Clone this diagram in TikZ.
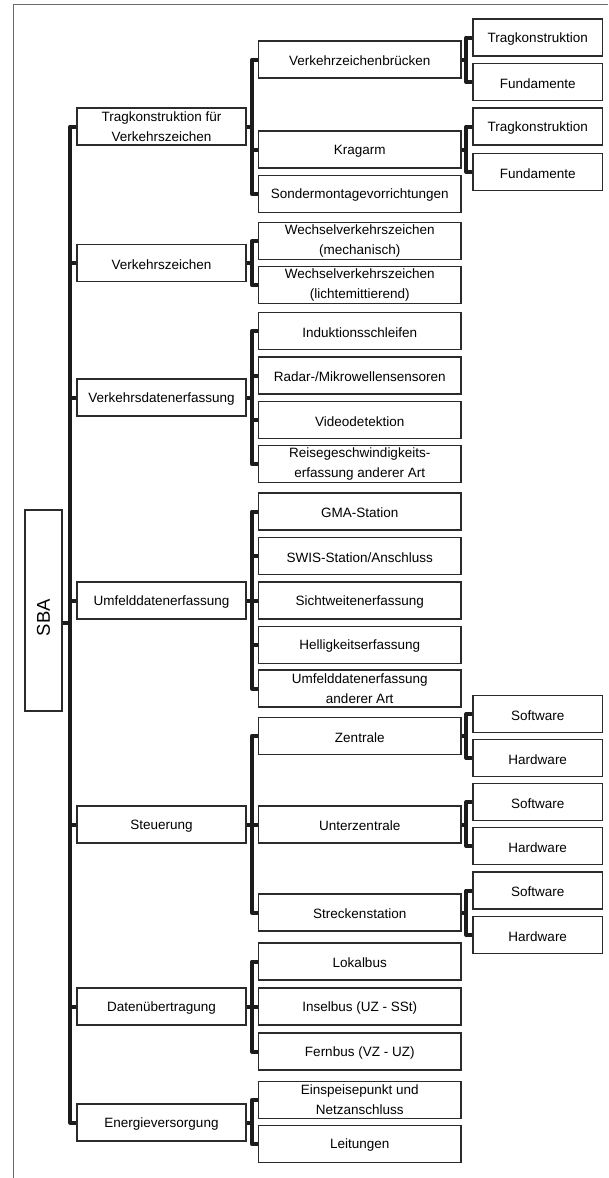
\documentclass[tikz,border=0pt]{standalone}
\usepackage{fontspec}
\usepackage{graphicx}
\newfontfamily\labfont{Liberation Sans}
\newcommand\lab{\labfont\fontsize{13.5pt}{17.5pt}\selectfont}
\newcommand\biglab{\labfont\fontsize{18.5pt}{20pt}\selectfont}
\newcommand\nl{\\[2.5pt]}
\definecolor{boxc}{HTML}{2B2B2B}
\definecolor{connc}{HTML}{1C1C1C}
\definecolor{framec}{HTML}{6A6A6A}

% fork: vertical bar left of the children, stubs to the first and last child,
% and the stub from the parent's right side to the bar
\newcommand\treefork[3]{%
  \coordinate (#2bar) at ([xshift=-6pt]#2.west);
  \draw[conn] (#2.west) -- (#2bar) |- (#3.west);
  \draw[conn] (#1.east) -- (#1.east -| #2bar);
}
\newcommand\treestub[1]{\draw[conn] (#1.west) -- ++(-6,0);}

\tikzset{
  box/.style={draw=boxc, line width=1.25pt, fill=white, minimum height=37pt,
    inner sep=0pt, align=center, font=\lab,
    execute at begin node={\rule{0pt}{12.5pt}}},
  lone/.style={box, minimum width=169pt},
  ltwo/.style={box, minimum width=202.5pt},
  lthree/.style={box, minimum width=129.5pt},
  conn/.style={draw=connc, line width=4pt, line join=round},
  framel/.style={draw=framec, line width=1.1pt},
}

\begin{document}
\begin{tikzpicture}[x=1pt,y=-1pt]
\useasboundingbox (0,0) rectangle (608,1178);
\fill[white] (0,0) rectangle (608,1178);

% outer frame (top and left edges)
\draw[framel] (608,4.5) -- (13.3,4.5) -- (13.3,1178);

% root
\node[box, minimum width=37pt, minimum height=201pt, font=\biglab,
  execute at begin node={}] (sba) at (43.5,610.5)
  {\rotatebox{90}{SBA\kern14pt}};

% first level
\node[lone] (t1) at (161.5,126.5) {Tragkonstruktion für\nl Verkehrszeichen};
\node[lone] (t2) at (161.5,263)   {Verkehrszeichen};
\node[lone] (t3) at (161.5,397.5) {Verkehrsdatenerfassung};
\node[lone] (t4) at (161.5,600.5) {Umfelddatenerfassung};
\node[lone] (t5) at (161.5,824.5) {Steuerung};
\node[lone] (t6) at (161.5,1006.5) {Datenübertragung};
\node[lone] (t7) at (161.5,1122.5) {Energieversorgung};

% second level
\node[ltwo] (a1) at (359.75,59.5)  {Verkehrzeichenbrücken};
\node[ltwo] (a2) at (359.75,149.5) {Kragarm};
\node[ltwo] (a3) at (359.75,194)   {Sondermontagevorrichtungen};
\node[ltwo] (b1) at (359.75,241)   {Wechselverkehrszeichen\nl (mechanisch)};
\node[ltwo] (b2) at (359.75,285)   {Wechselverkehrszeichen\nl (lichtemittierend)};
\node[ltwo] (c1) at (359.75,331)   {Induktionsschleifen};
\node[ltwo] (c2) at (359.75,375.5) {Radar-/Mikrowellensensoren};
\node[ltwo] (c3) at (359.75,420)   {Videodetektion};
\node[ltwo] (c4) at (359.75,464)   {Reisegeschwindigkeits-\nl erfassung anderer Art};
\node[ltwo] (d1) at (359.75,511.5) {GMA-Station};
\node[ltwo] (d2) at (359.75,556)   {SWIS-Station/Anschluss};
\node[ltwo] (d3) at (359.75,600.5) {Sichtweitenerfassung};
\node[ltwo] (d4) at (359.75,645)   {Helligkeitserfassung};
\node[ltwo] (d5) at (359.75,688.5) {Umfelddatenerfassung\nl anderer Art};
\node[ltwo] (e1) at (359.75,736)   {Zentrale};
\node[ltwo] (e2) at (359.75,824.5) {Unterzentrale};
\node[ltwo] (e3) at (359.75,912.5) {Streckenstation};
\node[ltwo] (f1) at (359.75,961.5) {Lokalbus};
\node[ltwo] (f2) at (359.75,1006.5) {Inselbus (UZ - SSt)};
\node[ltwo] (f3) at (359.75,1051.5) {Fernbus (VZ - UZ)};
\node[ltwo] (g1) at (359.75,1100)  {Einspeisepunkt und\nl Netzanschluss};
\node[ltwo] (g2) at (359.75,1144)  {Leitungen};

% third level
\node[lthree] (a1x) at (537.75,37.5)  {Tragkonstruktion};
\node[lthree] (a1y) at (537.75,82)    {Fundamente};
\node[lthree] (a2x) at (537.75,126.5) {Tragkonstruktion};
\node[lthree] (a2y) at (537.75,172)   {Fundamente};
\node[lthree] (e1x) at (537.75,714)   {Software};
\node[lthree] (e1y) at (537.75,758)   {Hardware};
\node[lthree] (e2x) at (537.75,802)   {Software};
\node[lthree] (e2y) at (537.75,846)   {Hardware};
\node[lthree] (e3x) at (537.75,890.5) {Software};
\node[lthree] (e3y) at (537.75,935)   {Hardware};

% trunk from the root to the first level
\coordinate (trunk) at ([xshift=-6pt]t1.west);
\draw[conn] (t1.west) -- (trunk) |- (t7.west);
\foreach \n in {t2,t3,t4,t5,t6} {\treestub{\n}}
\draw[conn] ([yshift=-12.5pt]sba.east) -- ([yshift=-12.5pt]sba.east -| trunk);

% first to second level
\treefork{t1}{a1}{a3} \treestub{a2}
\treefork{t2}{b1}{b2}
\treefork{t3}{c1}{c4} \treestub{c2} \treestub{c3}
\treefork{t4}{d1}{d5} \treestub{d2} \treestub{d3} \treestub{d4}
\treefork{t5}{e1}{e3} \treestub{e2}
\treefork{t6}{f1}{f3} \treestub{f2}
\treefork{t7}{g1}{g2}

% second to third level
\treefork{a1}{a1x}{a1y}
\treefork{a2}{a2x}{a2y}
\treefork{e1}{e1x}{e1y}
\treefork{e2}{e2x}{e2y}
\treefork{e3}{e3x}{e3y}
\end{tikzpicture}
\end{document}
